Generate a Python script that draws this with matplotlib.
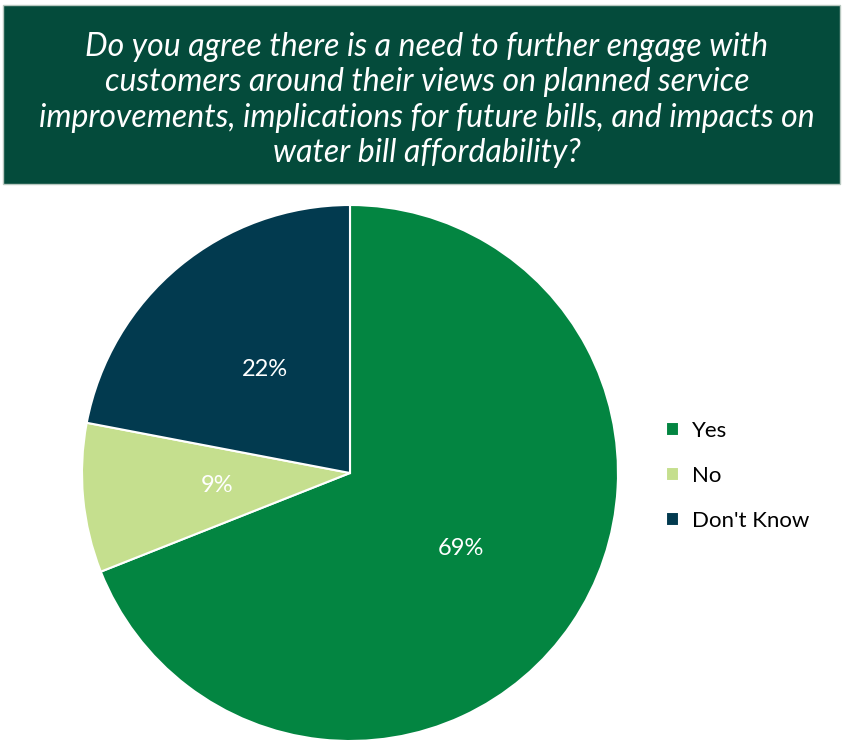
import matplotlib
matplotlib.use("Agg")
import matplotlib.pyplot as plt
from matplotlib.patches import Rectangle

plt.rcParams['font.family'] = ['Lato', 'DejaVu Sans']

labels = ["Yes", "No", "Don't Know"]
values = [69, 9, 22]
colors = ["#038541", "#c5df8e", "#023a4f"]
title = ("Do you agree there is a need to further engage with\n"
         "customers around their views on planned service\n"
         "improvements, implications for future bills, and impacts on\n"
         "water bill affordability?")

W, H = 844, 742
fig = plt.figure(figsize=(W / 100, H / 100), dpi=100)

# title banner
fig.patches.append(Rectangle((3 / W, 1 - 184 / H), 837 / W, 179 / H,
                             transform=fig.transFigure, facecolor="#044b3b",
                             edgecolor="#b8c8c0", linewidth=1, zorder=0))
fig.text(427 / W, 1 - 100 / H, title, ha="center", va="center", color="white",
         fontsize=23, style="italic", linespacing=1.22)

# pie, centre (350, 473), radius 268 px
cx, cy, r = 350, 473, 268
ax = fig.add_axes([(cx - r) / W, 1 - (cy + r) / H, 2 * r / W, 2 * r / H])
wedges, texts, autotexts = ax.pie(
    values, colors=colors, startangle=90, counterclock=False,
    autopct="%d%%", pctdistance=0.5,
    wedgeprops=dict(edgecolor="white", linewidth=1.5),
    textprops=dict(color="white", fontsize=17))
ax.set_xlim(-1, 1)
ax.set_ylim(-1, 1)
ax.set_aspect("equal")

fig.legend(wedges, labels, loc="upper left", bbox_to_anchor=(646 / W, 1 - 401 / H),
           frameon=False, fontsize=16, handlelength=0.6, handleheight=0.6,
           handletextpad=0.55, labelspacing=1.12)

fig.savefig("out.png", dpi=100)
